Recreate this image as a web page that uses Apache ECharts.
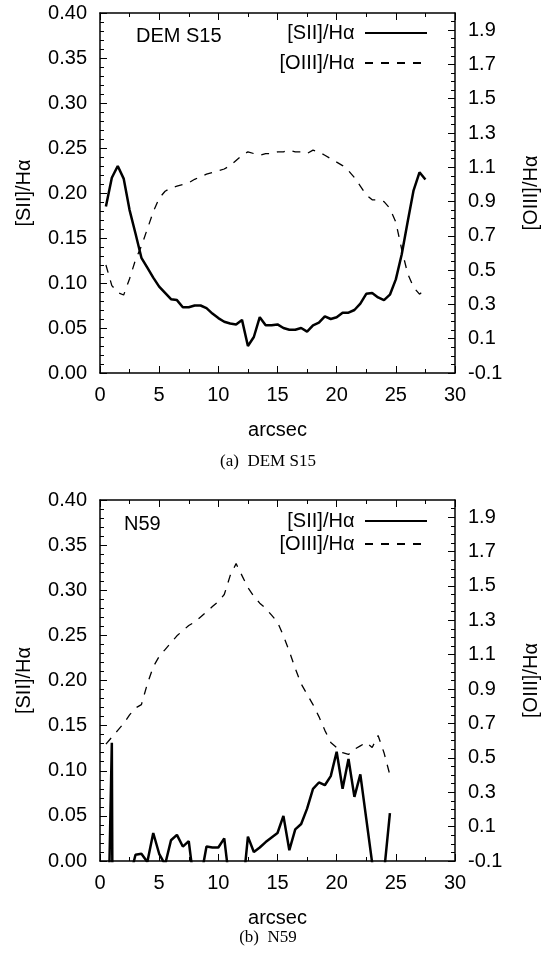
<!DOCTYPE html>
<html><head><meta charset="utf-8">
<script src="https://cdn.jsdelivr.net/npm/echarts@6/dist/echarts.min.js"></script>
<style>html,body{margin:0;padding:0;background:#fff}#c{width:550px;height:958px}</style>
</head><body><div id="c"></div>
<script>
// ---- Panel (a) DEM S15 ----
const xA = [0.5,1.0,1.5,2.0,2.5,3.0,3.5,4.0,4.5,5.0,5.5,6.0,6.5,7.0,7.5,8.0,8.5,9.0,9.5,10.0,
  10.5,11.0,11.5,12.0,12.5,13.0,13.5,14.0,14.5,15.0,15.5,16.0,16.5,17.0,17.5,18.0,18.5,19.0,19.5,20.0,
  20.5,21.0,21.5,22.0,22.5,23.0,23.5,24.0,24.5,25.0,25.5,26.0,26.5,27.0,27.5];
const siiA = [0.185,0.217,0.230,0.216,0.181,0.155,0.128,0.117,0.106,0.096,0.089,0.082,0.081,0.073,0.073,0.075,0.075,0.072,0.066,0.061,
  0.057,0.055,0.054,0.059,0.030,0.040,0.062,0.053,0.053,0.054,0.050,0.048,0.048,0.050,0.046,0.053,0.056,0.063,0.060,0.062,
  0.067,0.067,0.070,0.077,0.088,0.089,0.084,0.081,0.087,0.104,0.132,0.168,0.203,0.223,0.215];
const oiiiA = [0.53,0.41,0.37,0.355,0.45,0.56,0.64,0.74,0.84,0.92,0.96,0.98,0.99,1.00,1.01,1.03,1.045,1.06,1.07,1.08,
  1.09,1.11,1.14,1.17,1.19,1.18,1.17,1.18,1.18,1.19,1.19,1.20,1.19,1.19,1.18,1.20,1.19,1.17,1.15,1.13,
  1.11,1.08,1.04,0.99,0.94,0.91,0.91,0.90,0.86,0.78,0.62,0.48,0.40,0.36,0.39];

// ---- Panel (b) N59 ----
const xB = [0.5,1.0,1.5,2.0,2.5,3.0,3.5,4.0,4.5,5.0,5.5,6.0,6.5,7.0,7.5,8.0,8.5,9.0,9.5,10.0,
  10.5,11.0,11.5,12.0,12.5,13.0,13.5,14.0,14.5,15.0,15.5,16.0,16.5,17.0,17.5,18.0,18.5,19.0,19.5,20.0,
  20.5,21.0,21.5,22.0,22.5,23.0,23.5,24.0,24.5];
const siiB = [-0.2,0.131,-1.5,-0.05,-0.02,0.007,0.008,-0.001,0.031,0.008,-0.004,0.023,0.029,0.016,0.022,-0.03,-0.02,0.016,0.015,0.015,
  0.025,-0.03,-0.05,-0.04,0.027,0.010,0.015,0.021,0.026,0.031,0.050,0.012,0.035,0.041,0.058,0.080,0.087,0.084,0.094,0.121,
  0.080,0.113,0.071,0.096,0.047,-0.002,-0.05,-0.013,0.053];
const oiiiB = [0.58,0.62,0.66,0.70,0.75,0.79,0.81,0.93,1.03,1.09,1.13,1.17,1.21,1.24,1.27,1.29,1.32,1.35,1.38,1.41,
  1.45,1.56,1.63,1.56,1.49,1.44,1.40,1.37,1.33,1.29,1.21,1.12,1.02,0.93,0.87,0.81,0.74,0.66,0.59,0.56,
  0.53,0.52,0.55,0.57,0.59,0.56,0.63,0.53,0.40];

// ---- Axis ticks ----
const rightMajor = [-0.1,0.1,0.3,0.5,0.7,0.9,1.1,1.3,1.5,1.7,1.9];
const rightMinor = [-0.05,0.0,0.05,0.15,0.2,0.25,0.35,0.4,0.45,0.55,0.6,0.65,0.75,0.8,0.85,0.95,1.0,1.05,
  1.15,1.2,1.25,1.35,1.4,1.45,1.55,1.6,1.65,1.75,1.8,1.85,1.95];
const nameS = '[SII]/H\u03b1';
const nameO = '[OIII]/H\u03b1';

const FONT = 'Liberation Sans, Arial, Helvetica, sans-serif';
const SERIF = 'Liberation Serif, Times New Roman, serif';
const black = '#000';
const lineAxis = {show: true, onZero: false, lineStyle: {color: black, width: 1.5}};
const tickStyle = {color: black, width: 1};

function zip(xs, ys) { return xs.map((x, i) => [x, ys[i]]); }

const grids = [
  {left: 100, top: 13, width: 355, height: 360},
  {left: 100, top: 500, width: 355, height: 361}
];

function xAxes(gi) {
  return [
    {gridIndex: gi, type: 'value', position: 'bottom', min: 0, max: 30, interval: 5,
     axisLine: lineAxis, splitLine: {show: false},
     axisTick: {show: true, inside: true, length: 7, lineStyle: tickStyle},
     minorTick: {show: true, splitNumber: 2, length: 4, lineStyle: tickStyle},
     axisLabel: {color: black, fontSize: 20, fontFamily: FONT, margin: 12},
     name: 'arcsec', nameLocation: 'middle', nameGap: 47,
     nameTextStyle: {color: black, fontSize: 20, fontFamily: FONT}},
    {gridIndex: gi, type: 'value', position: 'top', min: 0, max: 30, interval: 5,
     axisLine: lineAxis, splitLine: {show: false},
     axisTick: {show: true, inside: true, length: 7, lineStyle: tickStyle},
     minorTick: {show: true, splitNumber: 2, length: 4, lineStyle: tickStyle},
     axisLabel: {show: false}}
  ];
}
function yAxes(gi) {
  return [
    {gridIndex: gi, type: 'value', position: 'left', min: 0, max: 0.4, interval: 0.05,
     axisLine: lineAxis, splitLine: {show: false},
     axisTick: {show: true, inside: true, length: 7, lineStyle: tickStyle},
     minorTick: {show: true, splitNumber: 5, length: 4, lineStyle: tickStyle},
     axisLabel: {color: black, fontSize: 20, fontFamily: FONT, margin: 13, formatter: v => v.toFixed(2)},
     name: nameS, nameLocation: 'middle', nameGap: 66, nameRotate: 90,
     nameTextStyle: {color: black, fontSize: 20, fontFamily: FONT}},
    {gridIndex: gi, type: 'value', position: 'right', min: -0.1, max: 2.0,
     axisLine: lineAxis, splitLine: {show: false},
     axisTick: {show: true, inside: true, length: 7, customValues: rightMajor, lineStyle: tickStyle},
     axisLabel: {color: black, fontSize: 20, fontFamily: FONT, margin: 13, customValues: rightMajor,
                 formatter: v => v.toFixed(1)},
     name: nameO, nameLocation: 'middle', nameGap: 66, nameRotate: 90,
     nameTextStyle: {color: black, fontSize: 20, fontFamily: FONT}},
    {gridIndex: gi, type: 'value', position: 'right', min: -0.1, max: 2.0,
     axisLine: {show: false, onZero: false}, splitLine: {show: false},
     axisTick: {show: true, inside: true, length: 4, customValues: rightMinor, lineStyle: tickStyle},
     axisLabel: {show: false, customValues: rightMinor}}
  ];
}

const sOpt = {type: 'line', symbol: 'none', clip: true, lineStyle: {color: black, width: 2.5}, itemStyle: {color: black}};
const oOpt = {type: 'line', symbol: 'none', clip: true, lineStyle: {color: black, width: 1.3, type: [8, 8]}, itemStyle: {color: black}};

function legend(top, gap) {
  return {orient: 'vertical', align: 'right', right: 122, top: top, padding: 0,
    itemWidth: 62, itemHeight: 14, itemGap: gap,
    itemStyle: {opacity: 0},
    data: [nameS, nameO], formatter: n => n + ' ', selectedMode: false,
    textStyle: {color: black, fontSize: 20, fontFamily: FONT}};
}

const option = {
  animation: false,
  backgroundColor: '#fff',
  title: [
    {text: 'DEM S15', left: 136, top: 26, padding: 0, textStyle: {color: black, fontSize: 20, fontWeight: 'normal', fontFamily: FONT}},
    {text: 'N59', left: 124, top: 514, padding: 0, textStyle: {color: black, fontSize: 20, fontWeight: 'normal', fontFamily: FONT}},
    {text: '(a)  DEM S15', left: 268, textAlign: 'center', top: 453, padding: 0, textStyle: {color: black, fontSize: 17, fontWeight: 'normal', fontFamily: SERIF}},
    {text: '(b)  N59', left: 268, textAlign: 'center', top: 929, padding: 0, textStyle: {color: black, fontSize: 17, fontWeight: 'normal', fontFamily: SERIF}}
  ],
  legend: [legend(23, 10), legend(511, 3)],
  grid: grids,
  xAxis: [...xAxes(0), ...xAxes(1)],
  yAxis: [...yAxes(0), ...yAxes(1)],
  series: [
    Object.assign({name: nameS, xAxisIndex: 0, yAxisIndex: 0, data: zip(xA, siiA)}, sOpt),
    Object.assign({name: nameO, xAxisIndex: 0, yAxisIndex: 1, data: zip(xA, oiiiA)}, oOpt),
    Object.assign({name: nameS, xAxisIndex: 2, yAxisIndex: 3, data: zip(xB, siiB)}, sOpt),
    Object.assign({name: nameO, xAxisIndex: 2, yAxisIndex: 4, data: zip(xB, oiiiB)}, oOpt)
  ]
};
const chart = echarts.init(document.getElementById('c'), null, {renderer: 'canvas'});
chart.setOption(option);
</script></body></html>
